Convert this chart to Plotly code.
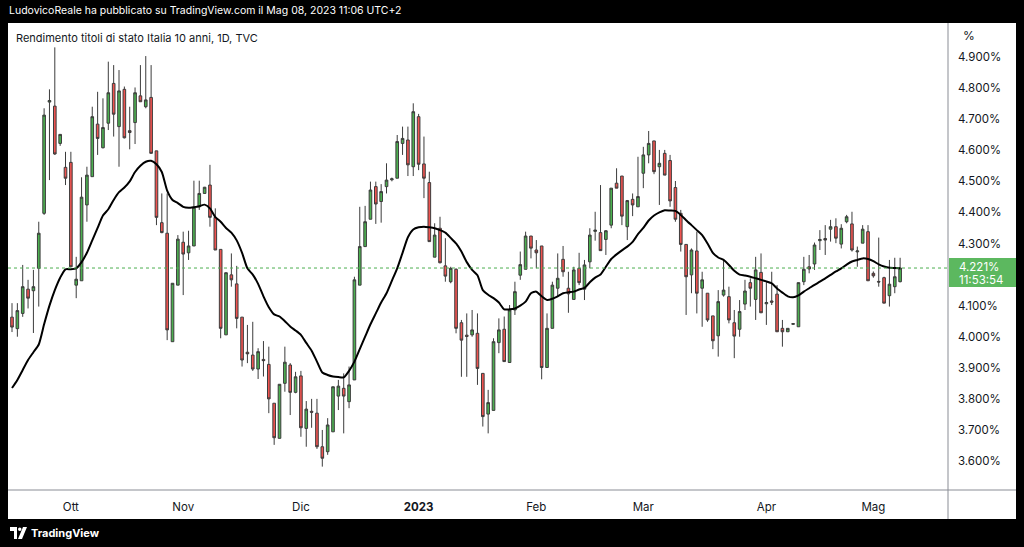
import pandas as pd
import plotly.graph_objects as go

# ---------------- data ----------------
dates = [d.strftime("%Y-%m-%d") for d in pd.bdate_range("2022-09-16", "2023-05-08")]

opens = [4.063,4.026,4.075,4.153,4.148,4.220,4.397,4.755,4.742,4.622,4.545,4.561,4.166,4.180,4.424,4.515,4.684,4.608,4.687,4.815,
         4.676,4.796,4.663,4.689,4.775,4.740,4.770,4.598,4.367,4.333,3.984,4.166,4.304,4.270,4.292,4.418,4.461,4.488,4.384,4.281,
         4.006,4.199,4.170,4.063,3.950,3.941,3.896,3.927,3.911,3.786,3.673,3.850,3.909,3.821,3.874,3.705,3.760,3.754,3.646,3.630,
         3.694,3.809,3.834,3.791,3.861,4.166,4.290,4.378,4.483,4.435,4.483,4.505,4.510,4.622,4.633,4.547,4.708,4.556,4.496,4.256,
         4.349,4.228,4.177,4.217,4.045,4.005,4.006,4.011,3.882,3.751,3.763,3.981,4.024,3.917,4.086,4.198,4.217,4.324,4.279,4.292,
         3.901,4.027,4.156,4.249,4.156,4.120,4.220,4.153,4.241,4.339,4.335,4.313,4.359,4.494,4.517,4.354,4.442,4.418,4.526,4.585,
         4.630,4.547,4.590,4.567,4.480,4.397,4.297,4.199,4.276,4.156,4.140,4.067,4.003,4.134,4.129,4.045,4.024,4.105,4.174,4.120,
         4.207,4.106,4.115,4.137,4.027,4.016,4.040,4.032,4.177,4.225,4.234,4.309,4.316,4.346,4.354,4.298,4.370,4.363,4.273,4.301,
         4.338,4.204,4.178,4.190,4.132,4.161,4.177]
highs = [4.108,4.108,4.231,4.183,4.215,4.370,4.735,4.796,4.931,4.652,4.595,4.595,4.257,4.513,4.547,4.740,4.788,4.767,4.885,4.874,
         4.858,4.805,4.740,4.802,4.874,4.903,4.874,4.598,4.461,4.461,4.172,4.327,4.338,4.341,4.502,4.502,4.482,4.553,4.413,4.281,
         4.206,4.268,4.228,4.063,4.038,4.048,3.963,3.986,3.968,3.786,3.847,3.968,3.915,3.887,3.890,3.793,3.800,3.800,3.700,3.738,
         3.839,3.861,3.882,3.904,4.193,4.418,4.421,4.499,4.499,4.491,4.558,4.512,4.649,4.676,4.676,4.751,4.717,4.644,4.531,4.365,
         4.386,4.317,4.225,4.220,4.054,4.075,4.086,4.075,3.882,3.829,3.995,4.059,4.065,4.102,4.177,4.274,4.338,4.324,4.311,4.292,
         4.075,4.177,4.268,4.292,4.209,4.225,4.270,4.247,4.349,4.402,4.488,4.343,4.478,4.542,4.517,4.440,4.461,4.579,4.611,4.662,
         4.630,4.601,4.601,4.585,4.501,4.408,4.297,4.284,4.338,4.209,4.140,4.067,4.150,4.249,4.161,4.086,4.118,4.183,4.188,4.257,
         4.268,4.177,4.209,4.166,4.054,4.027,4.044,4.174,4.257,4.263,4.303,4.343,4.359,4.376,4.381,4.362,4.392,4.402,4.290,4.359,
         4.359,4.210,4.319,4.193,4.247,4.254,4.254]
lows = [4.015,4.000,4.064,4.091,4.012,4.097,4.392,4.504,4.585,4.614,4.488,4.225,4.124,4.180,4.370,4.515,4.585,4.606,4.665,4.644,
        4.547,4.638,4.603,4.620,4.756,4.735,4.590,4.359,4.333,3.989,3.984,4.166,4.134,4.247,4.292,4.408,4.461,4.354,4.279,3.995,
        4.006,4.161,4.027,3.904,3.915,3.890,3.864,3.872,3.754,3.652,3.673,3.823,3.748,3.818,3.678,3.646,3.707,3.639,3.582,3.620,
        3.694,3.764,3.689,3.770,3.861,4.166,4.290,4.378,4.363,4.367,4.461,4.500,4.510,4.585,4.517,4.517,4.536,4.446,4.306,4.256,
        4.236,4.177,4.172,4.011,3.871,3.871,4.000,3.845,3.711,3.689,3.763,3.947,3.920,3.917,4.070,4.183,4.217,4.252,4.220,3.863,
        3.901,4.027,4.129,4.193,4.077,4.120,4.166,4.118,4.220,4.309,4.277,4.263,4.349,4.478,4.359,4.311,4.388,4.418,4.478,4.558,
        4.523,4.424,4.520,4.418,4.370,4.274,4.070,4.140,4.075,4.032,4.048,3.960,3.936,4.129,4.043,3.931,4.000,4.086,4.097,4.054,
        4.077,4.038,4.102,4.016,3.968,4.016,4.038,4.032,4.166,4.204,4.215,4.279,4.263,4.306,4.301,4.284,4.365,4.274,4.225,4.301,
        4.180,4.190,4.161,4.108,4.097,4.140,4.175]
closes = [4.031,4.084,4.161,4.124,4.161,4.333,4.713,4.760,4.588,4.651,4.510,4.225,4.185,4.449,4.520,4.708,4.638,4.673,4.785,4.716,
          4.791,4.640,4.657,4.785,4.756,4.762,4.590,4.384,4.335,4.022,4.172,4.314,4.266,4.292,4.416,4.461,4.481,4.384,4.279,4.027,
          4.206,4.183,4.059,3.925,3.945,3.896,3.952,3.923,3.800,3.675,3.847,3.918,3.821,3.871,3.707,3.767,3.757,3.646,3.609,3.716,
          3.839,3.841,3.809,3.845,4.183,4.290,4.370,4.472,4.427,4.467,4.504,4.508,4.628,4.638,4.553,4.724,4.555,4.510,4.306,4.327,
          4.238,4.195,4.220,4.027,3.989,4.001,4.022,3.898,3.743,3.788,3.984,4.022,3.920,4.086,4.145,4.232,4.324,4.285,4.270,3.901,
          4.027,4.166,4.188,4.209,4.138,4.215,4.174,4.231,4.327,4.343,4.277,4.341,4.478,4.478,4.388,4.438,4.424,4.451,4.585,4.622,
          4.531,4.558,4.520,4.437,4.378,4.297,4.193,4.279,4.140,4.183,4.054,3.987,4.113,4.150,4.054,4.002,4.081,4.147,4.156,4.215,
          4.077,4.110,4.111,4.016,4.016,4.027,4.042,4.174,4.217,4.218,4.295,4.313,4.311,4.354,4.317,4.349,4.386,4.279,4.276,4.346,
          4.180,4.196,4.176,4.108,4.169,4.193,4.221]
ma = [3.835,3.861,3.893,3.925,3.950,3.975,4.040,4.100,4.150,4.190,4.217,4.217,4.220,4.240,4.270,4.310,4.350,4.390,4.410,4.440,
      4.465,4.480,4.500,4.530,4.550,4.563,4.566,4.555,4.530,4.470,4.440,4.430,4.418,4.415,4.417,4.420,4.425,4.413,4.385,4.370,
      4.350,4.335,4.310,4.270,4.220,4.200,4.170,4.130,4.095,4.072,4.065,4.050,4.033,4.020,4.006,3.980,3.955,3.920,3.885,3.877,
      3.872,3.870,3.869,3.890,3.920,3.960,4.000,4.040,4.075,4.110,4.140,4.180,4.220,4.270,4.320,4.345,4.352,4.354,4.352,4.349,
      4.343,4.335,4.318,4.300,4.274,4.240,4.215,4.198,4.150,4.135,4.124,4.110,4.088,4.088,4.091,4.100,4.113,4.140,4.145,4.130,
      4.118,4.122,4.130,4.140,4.143,4.145,4.152,4.157,4.175,4.190,4.200,4.225,4.250,4.265,4.278,4.290,4.305,4.330,4.350,4.374,
      4.390,4.400,4.407,4.406,4.405,4.392,4.375,4.359,4.343,4.327,4.300,4.270,4.255,4.247,4.231,4.212,4.200,4.197,4.193,4.188,
      4.183,4.178,4.172,4.155,4.142,4.130,4.127,4.133,4.145,4.156,4.167,4.177,4.188,4.199,4.210,4.220,4.232,4.242,4.247,4.252,
      4.250,4.243,4.233,4.226,4.222,4.221,4.220]

month_names = ["Gen", "Feb", "Mar", "Apr", "Mag", "Giu", "Lug", "Ago", "Set", "Ott", "Nov", "Dic"]
header_text = "LudovicoReale ha pubblicato su TradingView.com il Mag 08, 2023 11:06 UTC+2"
title_text = "Rendimento titoli di stato Italia 10 anni, 1D, TVC"
countdown_text = "11:53:54"
y_ticks = [4.9, 4.8, 4.7, 4.6, 4.5, 4.4, 4.3, 4.1, 4.0, 3.9, 3.8, 3.7, 3.6]

# ---------------- layout helpers (pixel -> paper) ----------------
W, H = 1024, 547
L, R, T, B = 8, 948, 24, 490
def px(x):
    return (x - L) / (R - L)
def py(y):
    return (B - y) / (B - T)

FONT = "Inter, Roboto, sans-serif"
TXT = "#131722"
GREEN = "#4caf50"
RED = "#ef5350"

tickvals, ticktext = [], []
prev = dates[0][:7]
for d in dates[1:]:
    if d[:7] != prev:
        prev = d[:7]
        m = int(d[5:7])
        tickvals.append(d)
        ticktext.append("<b>%s</b>" % d[:4] if m == 1 else month_names[m - 1])

fig = go.Figure()
fig.add_trace(go.Candlestick(
    x=dates, open=opens, high=highs, low=lows, close=closes,
    increasing=dict(fillcolor=GREEN, line=dict(color="#3c3c3c", width=1)),
    decreasing=dict(fillcolor=RED, line=dict(color="#3c3c3c", width=1)),
    whiskerwidth=0, showlegend=False, hoverinfo="skip",
))
fig.add_trace(go.Scatter(
    x=dates, y=ma, mode="lines", line=dict(color="#000000", width=2, shape="spline", smoothing=0.6),
    showlegend=False, hoverinfo="skip",
))

last = closes[-1]
shapes = [
    dict(type="rect", xref="paper", yref="paper", x0=px(8), x1=px(1016), y0=py(519), y1=py(23),
         fillcolor="white", line=dict(width=0), layer="below"),
    dict(type="line", xref="paper", yref="paper", x0=px(948), x1=px(948), y0=py(519), y1=py(23),
         line=dict(color="#8a8d95", width=1)),
    dict(type="line", xref="paper", yref="paper", x0=px(8), x1=px(1016), y0=py(490), y1=py(490),
         line=dict(color="#8a8d95", width=1)),
    dict(type="line", xref="paper", yref="y", x0=0, x1=1, y0=last, y1=last,
         line=dict(color=GREEN, width=1, dash="dot")),
    dict(type="rect", xref="paper", yref="paper", x0=px(949), x1=px(1016), y0=py(287), y1=py(258),
         fillcolor="#5cb85f", line=dict(width=0)),
    dict(type="path", xref="paper", yref="paper",
         path="M %f %f L %f %f L %f %f L %f %f L %f %f L %f %f Z" % (
             px(10), py(527), px(17), py(527), px(17), py(539), px(14), py(539), px(14), py(531), px(10), py(531)),
         fillcolor="white", line=dict(width=0)),
    dict(type="circle", xref="paper", yref="paper", x0=px(18), x1=px(21.5), y0=py(531), y1=py(527.5),
         fillcolor="white", line=dict(width=0)),
    dict(type="path", xref="paper", yref="paper",
         path="M %f %f L %f %f L %f %f L %f %f Z" % (
             px(23), py(527), px(27), py(527), px(22), py(539), px(18), py(539)),
         fillcolor="white", line=dict(width=0)),
]

annotations = [
    dict(xref="paper", yref="paper", x=px(7), y=py(11), xanchor="left", yanchor="middle",
         text=header_text, showarrow=False, font=dict(family=FONT, size=10.5, color="white")),
    dict(xref="paper", yref="paper", x=px(14), y=py(38), xanchor="left", yanchor="middle",
         text=title_text, showarrow=False, font=dict(family=FONT, size=11, color=TXT)),
    dict(xref="paper", yref="paper", x=px(961), y=py(35), xanchor="left", yanchor="middle",
         text="%", showarrow=False, font=dict(family=FONT, size=12, color=TXT)),
    dict(xref="paper", yref="paper", x=px(957), y=py(267), xanchor="left", yanchor="middle",
         text="%.3f%%" % last, showarrow=False, font=dict(family=FONT, size=11.5, color="white")),
    dict(xref="paper", yref="paper", x=px(957), y=py(280), xanchor="left", yanchor="middle",
         text=countdown_text, showarrow=False, font=dict(family=FONT, size=11.5, color="white")),
    dict(xref="paper", yref="paper", x=px(29), y=py(533), xanchor="left", yanchor="middle",
         text="<b>TradingView</b>", showarrow=False, font=dict(family=FONT, size=11, color="white")),
]

fig.update_layout(
    width=W, height=H,
    margin=dict(l=L, r=W - R, t=T, b=H - B),
    paper_bgcolor="#000000", plot_bgcolor="white",
    shapes=shapes, annotations=annotations,
    font=dict(family=FONT, size=11.5, color=TXT),
    xaxis=dict(type="category", range=[-0.75, 174.95], rangeslider=dict(visible=False),
               tickmode="array", tickvals=tickvals, ticktext=ticktext,
               showgrid=False, zeroline=False, showline=False, ticks="",
               ticklabelstandoff=8, tickfont=dict(family=FONT, size=11.5, color=TXT)),
    yaxis=dict(side="right", range=[3.5068, 5.0062], tickmode="array", tickvals=y_ticks,
               ticktext=["%.3f%%" % v for v in y_ticks], showgrid=False, zeroline=False,
               showline=False, ticks="", ticklabelstandoff=9,
               tickfont=dict(family=FONT, size=11.5, color=TXT)),
    hovermode=False,
)

fig.write_html("out.html", config={"displayModeBar": False, "staticPlot": True},
               post_script="document.body.style.margin='0px';document.body.style.overflow='hidden';")
